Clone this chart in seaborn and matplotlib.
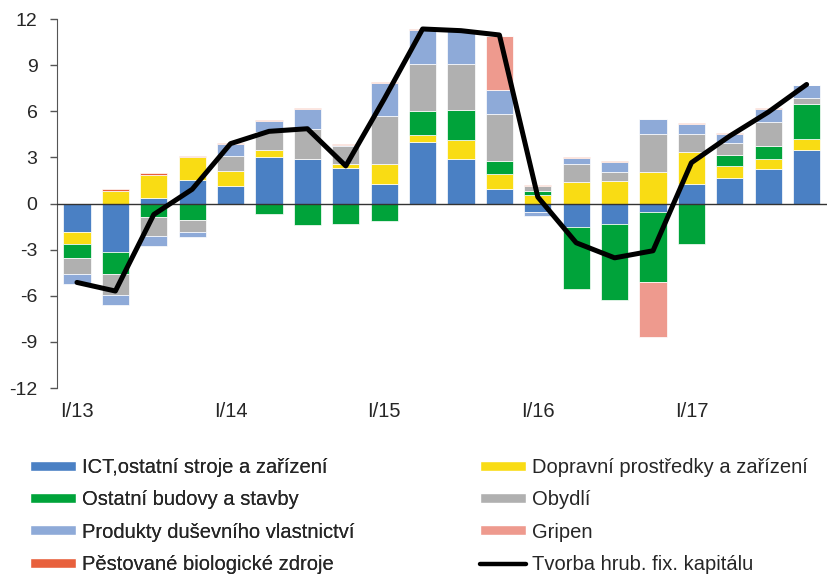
import numpy as np
import matplotlib
matplotlib.use("Agg")
import matplotlib.pyplot as plt
import seaborn as sns
from matplotlib.patches import Patch
from matplotlib.lines import Line2D

quarters = ["I/13", "II/13", "III/13", "IV/13", "I/14", "II/14", "III/14", "IV/14",
            "I/15", "II/15", "III/15", "IV/15", "I/16", "II/16", "III/16", "IV/16",
            "I/17", "II/17", "III/17", "IV/17"]

ict = [-1.88, -3.18, 0.37, 1.52, 1.13, 3.03, 2.88, 2.32, 1.28, 4.0,
       2.88, 0.95, -0.56, -1.52, -1.3, -0.54, 1.28, 1.65, 2.23, 3.48]
doprava = [-0.78, 0.82, 1.52, 1.52, 0.97, 0.45, 0.02, 0.26, 1.32, 0.45,
           1.26, 0.95, 0.54, 1.41, 1.49, 2.06, 2.08, 0.78, 0.69, 0.71]
budovy = [-0.89, -1.41, -0.89, -1.08, -0.03, -0.71, -1.41, -1.36, -1.15, 1.6,
          1.93, 0.89, 0.26, -4.07, -4.98, -4.59, -2.64, 0.71, 0.8, 2.27]
obydli = [-1.04, -1.36, -1.19, -0.8, 1.02, 1.17, 1.93, 1.15, 3.07, 3.03,
          3.03, 3.05, 0.35, 1.19, 0.56, 2.49, 1.19, 0.82, 1.62, 0.43]
produkty = [-0.61, -0.67, -0.67, -0.32, 0.78, 0.71, 1.32, 0.06, 2.16, 2.23,
            2.16, 1.56, -0.22, 0.39, 0.65, 0.93, 0.63, 0.56, 0.8, 0.82]
gripen = [0, 0, 0, 0, 0, 0, 0, 0, 0, 0,
          0, 3.53, 0, 0, 0, -3.53, 0, 0, 0, 0]
biolog = [0.0, 0.1, 0.13, 0.07, 0.04, 0.07, 0.07, 0.07, 0.07, 0.07,
          0.0, 0.0, 0.04, 0.04, 0.06, 0.0, 0.04, 0.04, 0.06, 0.0]
tvorba = [-5.13, -5.69, -0.71, 0.93, 3.9, 4.7, 4.87, 2.45, 6.8, 11.36,
          11.25, 10.97, 0.43, -2.55, -3.53, -3.07, 2.66, 4.4, 5.95, 7.75]

series = [
    ("ICT,ostatní stroje a zařízení", ict, "#4a80c4"),
    ("Dopravní prostředky a zařízení", doprava, "#f9dc14"),
    ("Ostatní budovy a stavby", budovy, "#00a33a"),
    ("Obydlí", obydli, "#b0b0b0"),
    ("Produkty duševního vlastnictví", produkty, "#8eaad8"),
    ("Gripen", gripen, "#ee9a8e"),
    ("Pěstované biologické zdroje", biolog, "#e8603c"),
]
lineLabel = "Tvorba hrub. fix. kapitálu"

sns.set_style("white")
plt.rcParams["font.family"] = ["Liberation Sans", "DejaVu Sans"]
plt.rcParams["axes.unicode_minus"] = False

fig = plt.figure(figsize=(8.32, 5.8), dpi=100)
ax = fig.add_axes([0.0685, 0.331, 0.925, 0.636])

x = np.arange(len(quarters))
posBottom = np.zeros(len(x))
negBottom = np.zeros(len(x))
for name, vals, color in series:
    v = np.array(vals, dtype=float)
    bottom = np.where(v >= 0, posBottom, negBottom)
    ax.bar(x, v, bottom=bottom, width=0.71, color=color,
           edgecolor="white", linewidth=0.5, zorder=2)
    posBottom += np.where(v > 0, v, 0)
    negBottom += np.where(v < 0, v, 0)

ax.axhline(0, color="#333333", linewidth=1, zorder=3)
sns.lineplot(x=x, y=tvorba, ax=ax, color="black", linewidth=3.6, zorder=4)

ax.set_xlim(-0.52, len(x) - 0.48)
ax.set_ylim(-12, 12)
ax.set_yticks(np.arange(-12, 13, 3))
ax.set_xticks(x[::4])
ax.set_xticklabels(quarters[::4])
ax.tick_params(axis="x", length=0, pad=10, labelsize=14.5)
ax.tick_params(axis="y", direction="out", length=5, width=1, color="#555555",
               pad=9, labelsize=14, left=True)
for side in ["top", "right", "bottom"]:
    ax.spines[side].set_visible(False)
ax.spines["left"].set_color("#555555")

handles = {name: Patch(facecolor=color) for name, _, color in series}
handles[lineLabel] = Line2D([0], [0], color="black", linewidth=3.2)
leftCol = ["ICT,ostatní stroje a zařízení", "Ostatní budovy a stavby",
           "Produkty duševního vlastnictví", "Pěstované biologické zdroje"]
rightCol = ["Dopravní prostředky a zařízení", "Obydlí", "Gripen", lineLabel]

legendStyle = dict(loc="upper left", frameon=False, fontsize=14.5,
                   handlelength=2.3, handleheight=0.4, handletextpad=0.3,
                   labelspacing=0.66, borderpad=0, borderaxespad=0)
leg1 = fig.legend([handles[n] for n in leftCol], leftCol,
                  bbox_to_anchor=(30 / 832, 1 - 458 / 580), **legendStyle)
fig.add_artist(leg1)
fig.legend([handles[n] for n in rightCol], rightCol,
           bbox_to_anchor=(480 / 832, 1 - 458 / 580), **legendStyle)

fig.savefig("out.png", dpi=100)
